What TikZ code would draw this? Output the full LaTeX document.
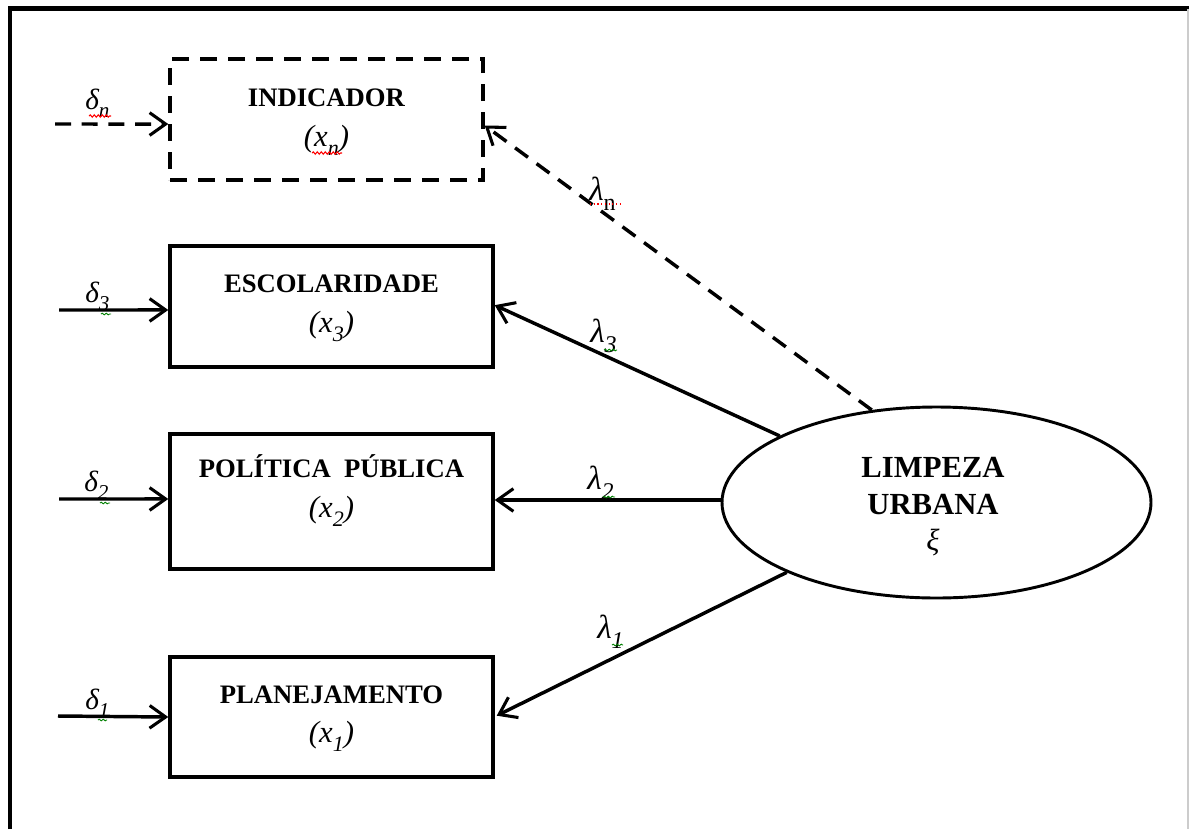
\documentclass[tikz,border=0pt]{standalone}
\usepackage{fontspec}
\setmainfont{Liberation Serif}
\usepackage{graphicx}
\usetikzlibrary{arrows.meta,shapes.geometric,decorations.pathmorphing}

% lowered, smaller index used in the symbols
\newcommand\lowsub[1]{\raisebox{-0.3em}{\scalebox{0.72}{#1}}}

\tikzset{
  link/.style={line width=2.6pt},
  tip/.style={-{Straight Barb[length=12pt,width=17pt,line width=2.3pt]}},
  obsbox/.style={draw, rectangle, line width=2.6pt, inner sep=0pt},
  dashbox/.style={obsbox, dash pattern=on 13pt off 8pt},
  dashlink/.style={link, dash pattern=on 12pt off 8pt},
  ttl/.style={anchor=base, inner sep=0pt, font=\bfseries\fontsize{20}{24}\selectfont},
  var/.style={anchor=base, inner sep=0pt, font=\itshape\fontsize{23}{26}\selectfont},
  dlbl/.style={anchor=base west, inner sep=0pt, font=\itshape\fontsize{22}{24}\selectfont},
  llbl/.style={anchor=base west, inner sep=0pt, font=\itshape\fontsize{25}{26}\selectfont},
  spell/.style={red, line width=0.8pt, decorate, decoration={snake, amplitude=0.9pt, segment length=3pt}},
  gram/.style={green!50!black, line width=0.7pt, decorate, decoration={snake, amplitude=0.6pt, segment length=3pt}},
}

\begin{document}
\begin{tikzpicture}[x=0.75pt, y=-0.75pt]
\useasboundingbox (0,0) rectangle (1189,829);
\fill[white] (0,0) rectangle (1189,829);

% page frame
\draw[line width=3.2pt] (10,829) -- (10,8.5) -- (1189,8.5);
\draw[black!20, line width=0.8pt] (1188,8.5) -- (1188,829);

% indicator boxes
\node[dashbox, minimum width=234.75pt, minimum height=90.75pt] (ind) at (326.5,119.5) {};
\node[obsbox, minimum width=242.25pt, minimum height=90.75pt] (esc) at (331.5,306.5) {};
\node[obsbox, minimum width=242.25pt, minimum height=101.25pt] (pol) at (331.5,501.5) {};
\node[obsbox, minimum width=242.25pt, minimum height=90pt] (pla) at (331.5,717) {};

\node[ttl] (ind-t) at (326.5,106) {INDICADOR};
\node[var] (ind-v) at (326.5,146) {(x\lowsub{n})};
\node[ttl] (esc-t) at (331.5,292) {ESCOLARIDADE};
\node[var] (esc-v) at (331.5,332) {(x\lowsub{3})};
\node[ttl] (pol-t) at (331.5,477) {POLÍTICA\hspace{0.5em}PÚBLICA};
\node[var] (pol-v) at (331.5,517) {(x\lowsub{2})};
\node[ttl] (pla-t) at (331.5,703) {PLANEJAMENTO};
\node[var] (pla-v) at (331.5,742) {(x\lowsub{1})};

% latent construct
\node[draw, ellipse, line width=2.2pt, minimum width=321.75pt, minimum height=143.25pt, inner sep=0pt] (lu) at (936.5,502.5) {};
\node[ttl, font=\bfseries\fontsize{23}{26}\selectfont] (lu-a) at (933,477) {LIMPEZA};
\node[ttl, font=\bfseries\fontsize{23}{26}\selectfont] (lu-b) at (933,514) {URBANA};
\node[var] (lu-c) at (933,550) {ξ};

% error terms
\coordinate (dn) at (55,124);
\coordinate (d3) at (59,310);
\coordinate (d2) at (59,499);
\coordinate (d1) at (58,716);
\draw[dashlink, tip] (dn) -- ([yshift=-3.4pt]ind.west);
\draw[link, tip] (d3) -- ([yshift=-2.6pt]esc.west);
\draw[link, tip] (d2) -- ([yshift=1.9pt]pol.west);
\draw[link, tip] (d1) -- (pla.west);

\node[dlbl] (ldn) at (85,109) {δ\lowsub{n}};
\node[dlbl] (ld3) at (85,302) {δ\lowsub{3}};
\node[dlbl] (ld2) at (84,491) {δ\lowsub{2}};
\node[dlbl] (ld1) at (85,709) {δ\lowsub{1}};

% loadings
\draw[dashlink, tip] (lu.125) -- ([yshift=-4.5pt]ind.east);
\draw[link, tip] (lu.157) -- ([yshift=1pt]esc.east);
\draw[link, tip] (lu.west |- 0,500) -- (pol.east |- 0,500);
\draw[link, tip] (lu.205) -- ([xshift=1.5pt,yshift=1pt]pla.east);

\node[llbl] (lln) at (589,200) {λ\lowsub{\upshape n}};
\node[llbl] (ll3) at (590,342) {λ\lowsub{3}};
\node[llbl] (ll2) at (587,489) {λ\lowsub{2}};
\node[llbl] (ll1) at (597,638) {λ\lowsub{1}};

% proofing marks under the symbols
\draw[spell] (89,116) -- (111,116);
\draw[spell] (312,153) -- (342,153);
\draw[red, line width=0.8pt, dotted] (590,204) -- (622,204);
\draw[gram] (101,314) -- (111,314);
\draw[gram] (100,503) -- (110,503);
\draw[gram] (98,720) -- (107,720);
\draw[gram] (604,350) -- (617,350);
\draw[gram] (603,497) -- (615,497);
\draw[gram] (612,645) -- (623,645);
\end{tikzpicture}
\end{document}
